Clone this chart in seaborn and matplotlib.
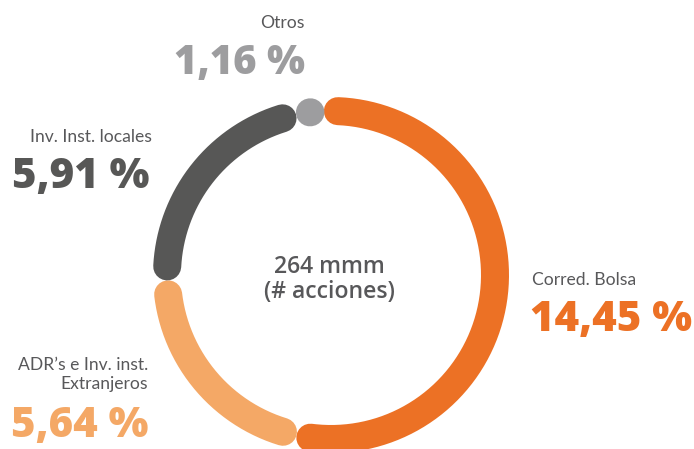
import numpy as np
import pandas as pd
import matplotlib
matplotlib.use("Agg")
import matplotlib.pyplot as plt
import seaborn as sns

# Ownership breakdown of the share base
categories = ["Corred. Bolsa", "ADR’s e Inv. inst.\nExtranjeros", "Inv. Inst. locales", "Otros"]
shares = [14.45, 5.64, 5.91, 1.16]
value_labels = ["14,45 %", "5,64 %", "5,91 %", "1,16 %"]
colors = ["#EC7125", "#F4A866", "#575756", "#9D9D9F"]
center_lines = ["264 mmm", "(# acciones)"]

W, H, DPI = 694, 449, 100
sns.set_theme(style="white")
plt.rcParams["font.family"] = ["Open Sans", "DejaVu Sans"]

fig = plt.figure(figsize=(W / DPI, H / DPI), dpi=DPI)
ax = fig.add_axes([0, 0, 1, 1])

# ring geometry in pixel units
cx, cy, r = 331, 275, 164
ring_px = 28
cap_deg = np.degrees(ring_px / r)

vals = np.array(shares, dtype=float)
spans = vals / vals.sum() * 360
small = spans < 2 * cap_deg
spans[small] = cap_deg                      # tiny slices shown as a single dot
big = ~small
spans[big] = vals[big] / vals[big].sum() * (360 - spans[small].sum())
start = -2.5
edges = start + np.concatenate([[0], np.cumsum(spans)])

rows = []
for i, cat in enumerate(categories):
    a0 = edges[i] + cap_deg / 2
    a1 = edges[i + 1] - cap_deg / 2
    if a1 - a0 < 0.2:
        a1 = a0 + 0.2
    th = np.radians(np.linspace(a0, a1, 240))
    rows.append(pd.DataFrame({
        "x": cx + r * np.sin(th),
        "y": cy - r * np.cos(th),
        "seg": cat,
    }))
df = pd.concat(rows, ignore_index=True)

sns.lineplot(data=df, x="x", y="y", hue="seg", hue_order=categories,
             palette=dict(zip(categories, colors)), sort=False, estimator=None,
             linewidth=ring_px * 72 / DPI, solid_capstyle="round", legend=False, ax=ax)

ax.set_xlim(0, W)
ax.set_ylim(H, 0)
ax.set_aspect("equal")
ax.axis("off")

pt = 72 / DPI
label_color = "#58585A"
lab_font = ["Lato", "DejaVu Sans"]
lab_fs = 17.5 * pt
num_fs = 42 * pt

# Corred. Bolsa
ax.text(532, 285, categories[0], ha="left", va="baseline", fontsize=lab_fs,
        family=lab_font, color=label_color)
ax.text(530, 331, value_labels[0], ha="left", va="baseline", fontsize=num_fs,
        fontweight="heavy", color=colors[0])
# ADR's
ax.text(148, 370, "ADR’s e Inv. inst.", ha="right", va="baseline", fontsize=lab_fs,
        family=lab_font, color=label_color)
ax.text(148, 389, "Extranjeros", ha="right", va="baseline", fontsize=lab_fs,
        family=lab_font, color=label_color)
ax.text(148, 437, value_labels[1], ha="right", va="baseline", fontsize=num_fs,
        fontweight="heavy", color=colors[1])
# Inv. Inst. locales
ax.text(152, 142, categories[2], ha="right", va="baseline", fontsize=lab_fs,
        family=lab_font, color=label_color)
ax.text(149, 188, value_labels[2], ha="right", va="baseline", fontsize=num_fs,
        fontweight="heavy", color=colors[2])
# Otros
ax.text(305, 28, categories[3], ha="right", va="baseline", fontsize=lab_fs,
        family=lab_font, color=label_color)
ax.text(305, 74, value_labels[3], ha="right", va="baseline", fontsize=40 * pt,
        fontweight="heavy", color=colors[3])

# centre caption
ax.text(329, 273, center_lines[0], ha="center", va="baseline", fontsize=23 * pt,
        fontweight="semibold", color=label_color)
ax.text(329, 298, center_lines[1], ha="center", va="baseline", fontsize=23 * pt,
        fontweight="semibold", color=label_color)

fig.savefig("out.png", dpi=DPI)
